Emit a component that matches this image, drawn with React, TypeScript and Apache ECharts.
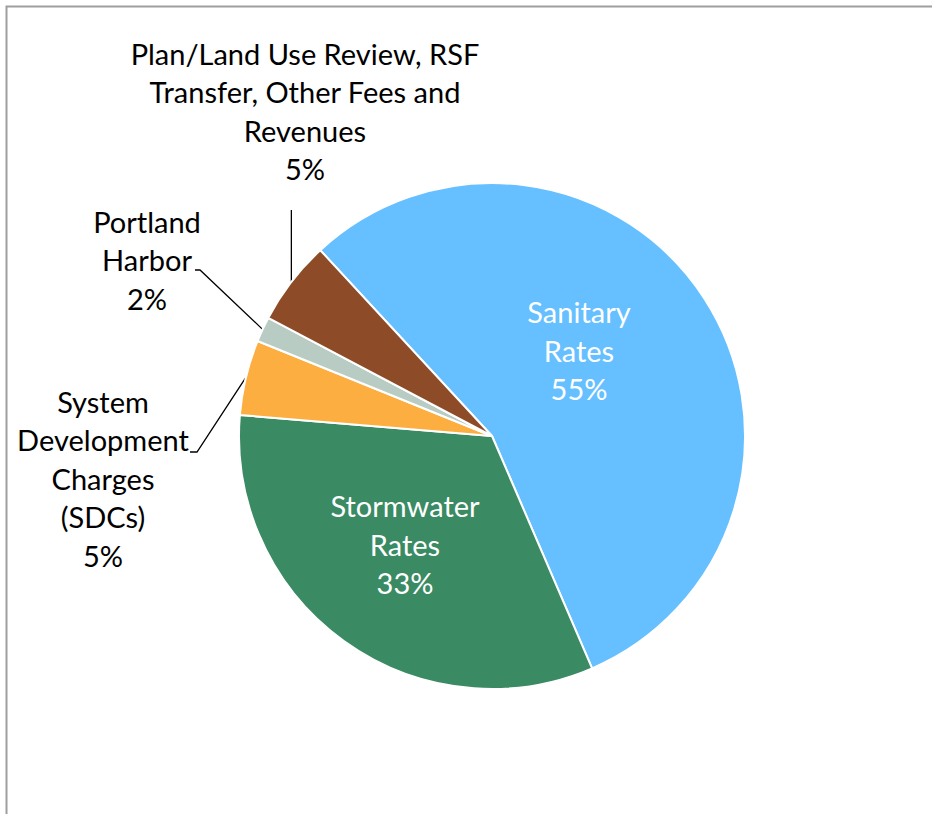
import React, { useEffect, useRef } from "react";
import * as echarts from "echarts";

const categories = [
  "Sanitary\nRates",
  "Stormwater\nRates",
  "System\nDevelopment\nCharges\n(SDCs)",
  "Portland\nHarbor",
  "Plan/Land Use Review, RSF\nTransfer, Other Fees and\nRevenues",
];
const values = [55.4, 32.8, 4.8, 1.6, 5.4];
const colors = ["#66BFFF", "#3A8A63", "#FCAF40", "#B8CCC3", "#8D4B28"];

// label placement (layout only, not data)
const labelPlaces = [
  { x: 579, y: 350, v: "middle", inside: true },
  { x: 405, y: 544, v: "middle", inside: true },
  { x: 103, y: 382, v: "top", inside: false, bend: [197, 452], end: [190, 452] },
  { x: 147, y: 202, v: "top", inside: false, bend: [200, 270], end: [195, 270] },
  { x: 305, y: 34, v: "top", inside: false, bend: null as any, bendY: 210 },
];

export default function App() {
  const ref = useRef<HTMLDivElement>(null);
  useEffect(() => {
    const chart = echarts.init(ref.current!, null, { renderer: "svg" });
    const total = values.reduce((a, b) => a + b, 0);
    const data = categories.map((name, i) => {
      const p = labelPlaces[i];
      return {
        name,
        value: values[i],
        itemStyle: { color: colors[i] },
        label: {
          position: p.inside ? "inner" : "outside",
          color: p.inside ? "#FFFFFF" : "#000000",
        },
        labelLine: { show: !p.inside },
      };
    });
    chart.setOption({
      animation: false,
      backgroundColor: "#FFFFFF",
      graphic: [
        {
          type: "rect",
          shape: { x: 6.5, y: 6.5, width: 1000, height: 1000 },
          style: { fill: "none", stroke: "#9E9E9E", lineWidth: 2 },
          silent: true,
        },
      ],
      series: [
        {
          type: "pie",
          center: [492, 436],
          radius: [0, 253],
          startAngle: 132.75,
          clockwise: true,
          avoidLabelOverlap: false,
          itemStyle: { borderColor: "#FFFFFF", borderWidth: 2 },
          label: {
            show: true,
            fontFamily: "Lato",
            fontSize: 29,
            lineHeight: 38.5,
            align: "center",
            formatter: (params: any) =>
              params.name + "\n" + Math.round((params.value / total) * 100) + "%",
          },
          labelLine: {
            show: true,
            lineStyle: { color: "#000000", width: 1.3 },
          },
          labelLayout: (params: any) => {
            const p = labelPlaces[params.dataIndex];
            const res: any = {
              x: p.x,
              y: p.y,
              align: "center",
              verticalAlign: p.v,
            };
            if (!p.inside && params.labelLinePoints) {
              const edge = params.labelLinePoints[0];
              if (p.bend) {
                res.labelLinePoints = [edge, p.bend, p.end];
              } else {
                res.labelLinePoints = [edge, [edge[0], p.bendY], [edge[0], p.bendY]];
              }
            }
            return res;
          },
          data,
        },
      ],
    });
    return () => chart.dispose();
  }, []);
  return (
    <div
      ref={ref}
      style={{ position: "fixed", left: 0, top: 0, width: 932, height: 814 }}
    />
  );
}
